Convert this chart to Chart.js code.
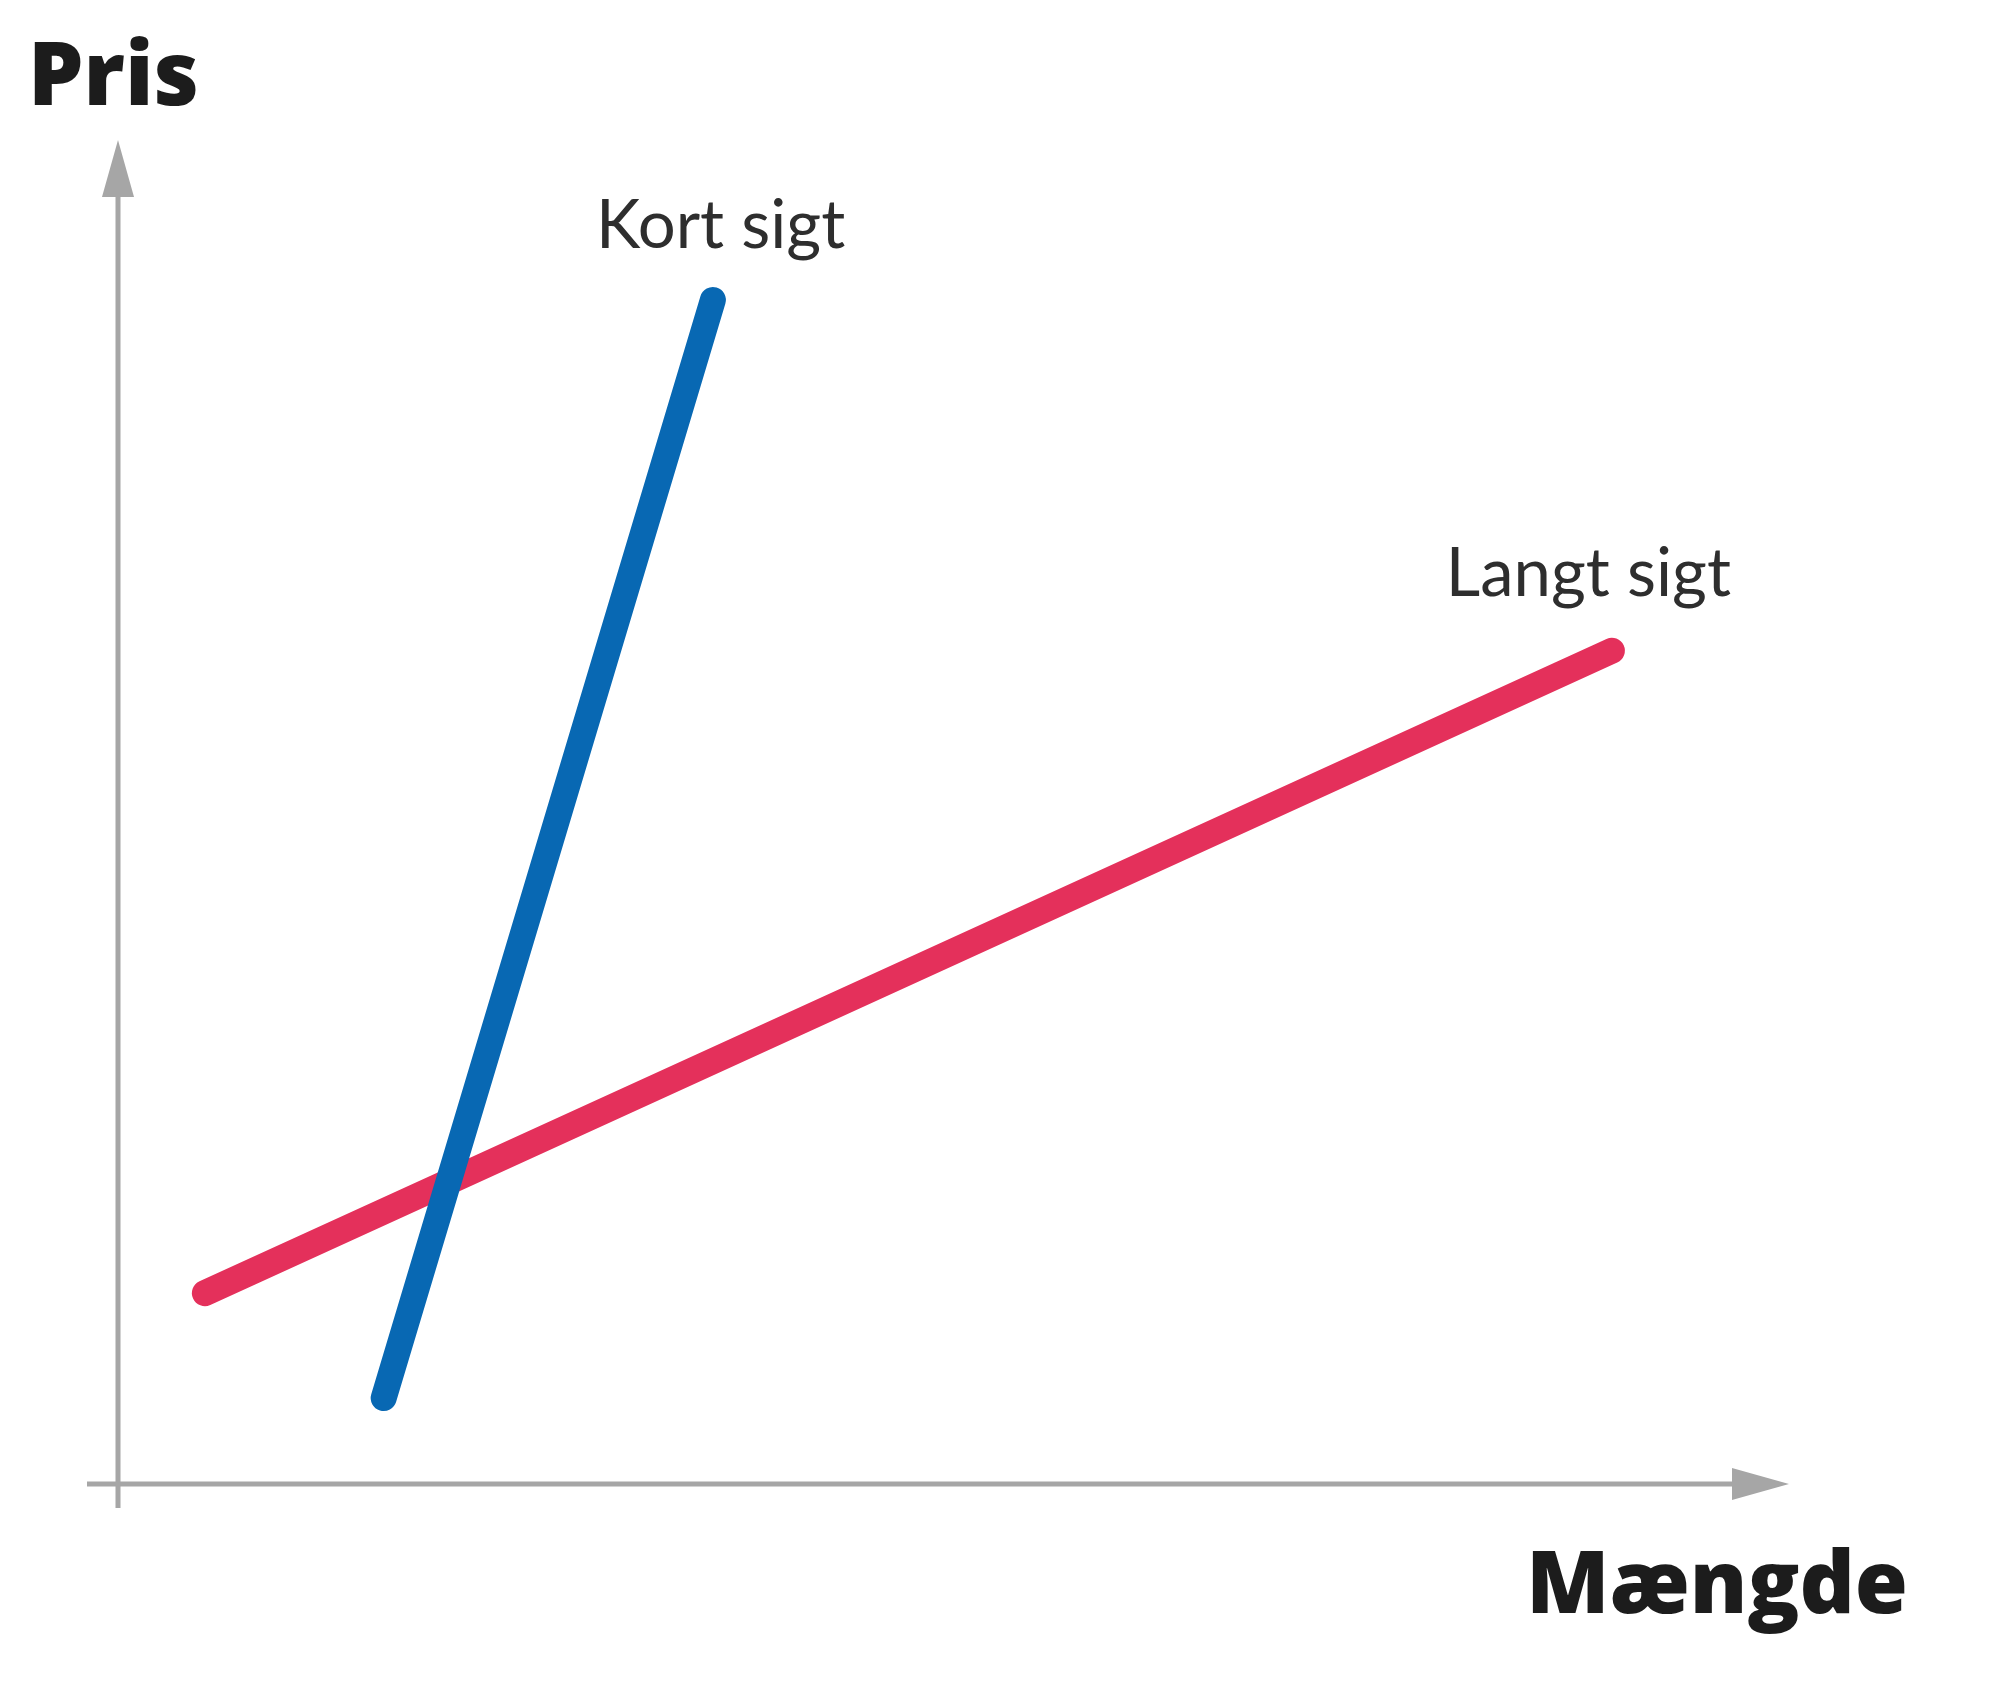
<!DOCTYPE html>
<html>
<head>
<meta charset="utf-8">
<script src="https://cdn.jsdelivr.net/npm/chart.js@4/dist/chart.umd.min.js"></script>
<style>
    html, body { margin: 0; padding: 0; background: #fff; }
    #wrap { width: 2000px; height: 1695px; }
</style>
</head>
<body>
<div id="wrap"><canvas id="supplyChart" width="2000" height="1695"></canvas></div>
<script>
// aksetitler og kurvenavne
const axisTitleY = 'Pris';
const axisTitleX = 'Mængde';
const seriesNames = ['Kort sigt', 'Langt sigt'];

// kurvernes endepunkter (mængde, pris) på en skala 0-100
const shortRunX = [15.9, 35.6];
const shortRunY = [6.4, 88.1];
const longRunX = [5.2, 89.4];
const longRunY = [14.2, 62.0];

const axisGrey = '#a6a6a6';
const blue = '#0868b3';
const red = '#e4305b';

function toPoints(xs, ys) {
    return xs.map((x, i) => ({ x: x, y: ys[i] }));
}

// tegner akser med pile samt tekster
const diagramPlugin = {
    id: 'diagram',
    beforeDatasetsDraw(chart) {
        const ctx = chart.ctx;
        const sx = chart.scales.x;
        const sy = chart.scales.y;
        const x0 = sx.getPixelForValue(0);
        const y0 = sy.getPixelForValue(0);
        const xEnd = sx.getPixelForValue(100);
        const yEnd = sy.getPixelForValue(100);
        const head = 57, half = 16;

        ctx.save();
        ctx.strokeStyle = axisGrey;
        ctx.fillStyle = axisGrey;
        ctx.lineWidth = 5;

        // y-akse
        ctx.beginPath();
        ctx.moveTo(x0, y0 + 24);
        ctx.lineTo(x0, yEnd + head);
        ctx.stroke();
        ctx.beginPath();
        ctx.moveTo(x0, yEnd);
        ctx.lineTo(x0 - half, yEnd + head);
        ctx.lineTo(x0 + half, yEnd + head);
        ctx.closePath();
        ctx.fill();

        // x-akse
        ctx.beginPath();
        ctx.moveTo(x0 - 31, y0);
        ctx.lineTo(xEnd - head, y0);
        ctx.stroke();
        ctx.beginPath();
        ctx.moveTo(xEnd, y0);
        ctx.lineTo(xEnd - head, y0 - half);
        ctx.lineTo(xEnd - head, y0 + half);
        ctx.closePath();
        ctx.fill();
        ctx.restore();
    },
    afterDatasetsDraw(chart) {
        const ctx = chart.ctx;
        const sx = chart.scales.x;
        const sy = chart.scales.y;
        const area = chart.chartArea;

        ctx.save();
        ctx.fillStyle = '#1c1c1c';
        ctx.textBaseline = 'alphabetic';
        ctx.font = '800 88px "Open Sans"';
        ctx.textAlign = 'left';
        ctx.fillText(axisTitleY, area.left - 90, area.top - 35);
        ctx.textAlign = 'right';
        ctx.font = '800 86px "Open Sans"';
        ctx.fillText(axisTitleX, area.right + 119, area.bottom + 129);

        ctx.fillStyle = '#2e2e2e';
        ctx.font = '400 67px Lato';
        ctx.textAlign = 'left';
        ctx.fillText(seriesNames[0],
            sx.getPixelForValue(shortRunX[1]) - 117,
            sy.getPixelForValue(shortRunY[1]) - 52);
        ctx.fillText(seriesNames[1],
            sx.getPixelForValue(longRunX[1]) - 166,
            sy.getPixelForValue(longRunY[1]) - 55);
        ctx.restore();
    }
};

new Chart(document.getElementById('supplyChart'), {
    type: 'scatter',
    data: {
        datasets: [
            {
                label: seriesNames[0],
                data: toPoints(shortRunX, shortRunY),
                showLine: true,
                borderColor: blue,
                borderWidth: 26,
                borderCapStyle: 'round',
                pointRadius: 0,
                order: 0
            },
            {
                label: seriesNames[1],
                data: toPoints(longRunX, longRunY),
                showLine: true,
                borderColor: red,
                borderWidth: 26,
                borderCapStyle: 'round',
                pointRadius: 0,
                order: 1
            }
        ]
    },
    options: {
        responsive: false,
        animation: false,
        layout: {
            padding: { left: 118, right: 211, top: 140, bottom: 211 }
        },
        plugins: {
            legend: { display: false },
            tooltip: { enabled: false }
        },
        scales: {
            x: { type: 'linear', min: 0, max: 100, display: false },
            y: { type: 'linear', min: 0, max: 100, display: false }
        }
    },
    plugins: [diagramPlugin]
});
</script>
</body>
</html>
